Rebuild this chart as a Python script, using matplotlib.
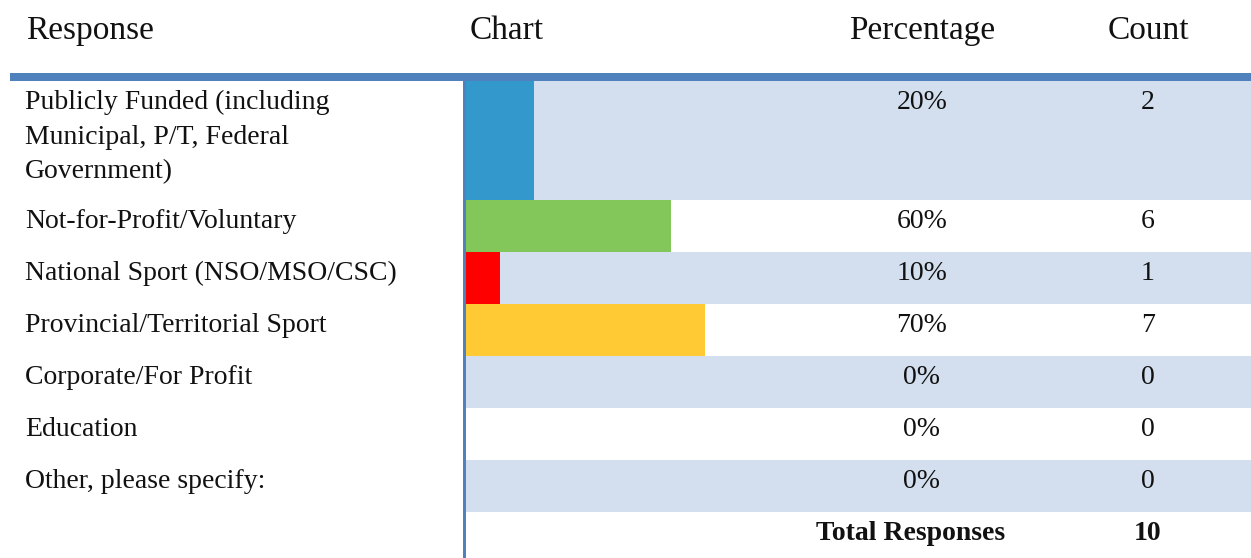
import matplotlib
matplotlib.use("Agg")
import matplotlib.pyplot as plt
from matplotlib.patches import Rectangle

responses = [
    "Publicly Funded (including\nMunicipal, P/T, Federal\nGovernment)",
    "Not-for-Profit/Voluntary",
    "National Sport (NSO/MSO/CSC)",
    "Provincial/Territorial Sport",
    "Corporate/For Profit",
    "Education",
    "Other, please specify:",
]
counts = [2, 6, 1, 7, 0, 0, 0]
total_responses = 10
bar_colors = ["#3399cc", "#83c75b", "#ff0000", "#ffca33", "#3399cc", "#3399cc", "#3399cc"]
headers = ["Response", "Chart", "Percentage", "Count"]

percentages = [c / total_responses * 100 for c in counts]

# layout in pixels
W, H = 1251, 558
row_tops = [81, 200, 252, 304, 356, 408, 460, 512]
row_bottom = 558
chart_left, chart_full = 466, 808  # x of 0% and 100%
pct_x, count_x = 922, 1148
shade = "#d3dfee"
rule = "#4f81bd"
font = ["Liberation Serif", "DejaVu Serif"]
fs = 20
head_fs = 24
line_gap = 34.5
base_off = 28

fig = plt.figure(figsize=(W / 100, H / 100), dpi=100)
ax = fig.add_axes([0, 0, 1, 1])
ax.set_xlim(0, W)
ax.set_ylim(H, 0)
ax.axis("off")

edges = row_tops + [row_bottom]
# striped background in the chart/value columns
for i in range(len(responses)):
    if i % 2 == 0:
        ax.add_patch(Rectangle((chart_left, edges[i]), W - chart_left, edges[i + 1] - edges[i],
                               color=shade, lw=0, zorder=0))

# header rule and column rule
ax.add_patch(Rectangle((10, 73), W - 10, 8, color=rule, lw=0, zorder=3))
ax.add_patch(Rectangle((463, 81), 3, row_bottom - 81, color=rule, lw=0, zorder=3))

# bars on their own axes: x in percent
cax = fig.add_axes([chart_left / W, 0, (chart_full - chart_left) / W, 1])
cax.set_xlim(0, 100)
cax.set_ylim(H, 0)
cax.axis("off")
centers = [(edges[i] + edges[i + 1]) / 2 for i in range(len(responses))]
heights = [edges[i + 1] - edges[i] for i in range(len(responses))]
cax.barh(centers, percentages, height=heights, left=0, color=bar_colors, edgecolor="none", zorder=2)


def put(x, y, s, ha="left", size=fs, **kw):
    ax.text(x, y, s, fontsize=size, family=font, va="baseline", ha=ha, color="#111111", **kw)


put(26, 39, headers[0], size=head_fs)
put(470, 39, headers[1], size=head_fs)
put(pct_x, 39, headers[2], ha="center", size=head_fs)
put(count_x, 39, headers[3], ha="center", size=head_fs)

for i, label in enumerate(responses):
    y = edges[i] + base_off
    for k, line in enumerate(label.split("\n")):
        put(25, y + k * line_gap, line)
    put(pct_x, y, f"{percentages[i]:.0f}%", ha="center")
    put(count_x, y, str(counts[i]), ha="center")

y = edges[-2] + base_off
put(911, y, "Total Responses", ha="center", weight="bold")
put(count_x, y, str(total_responses), ha="center", weight="bold")

fig.savefig("out.png", dpi=100)
